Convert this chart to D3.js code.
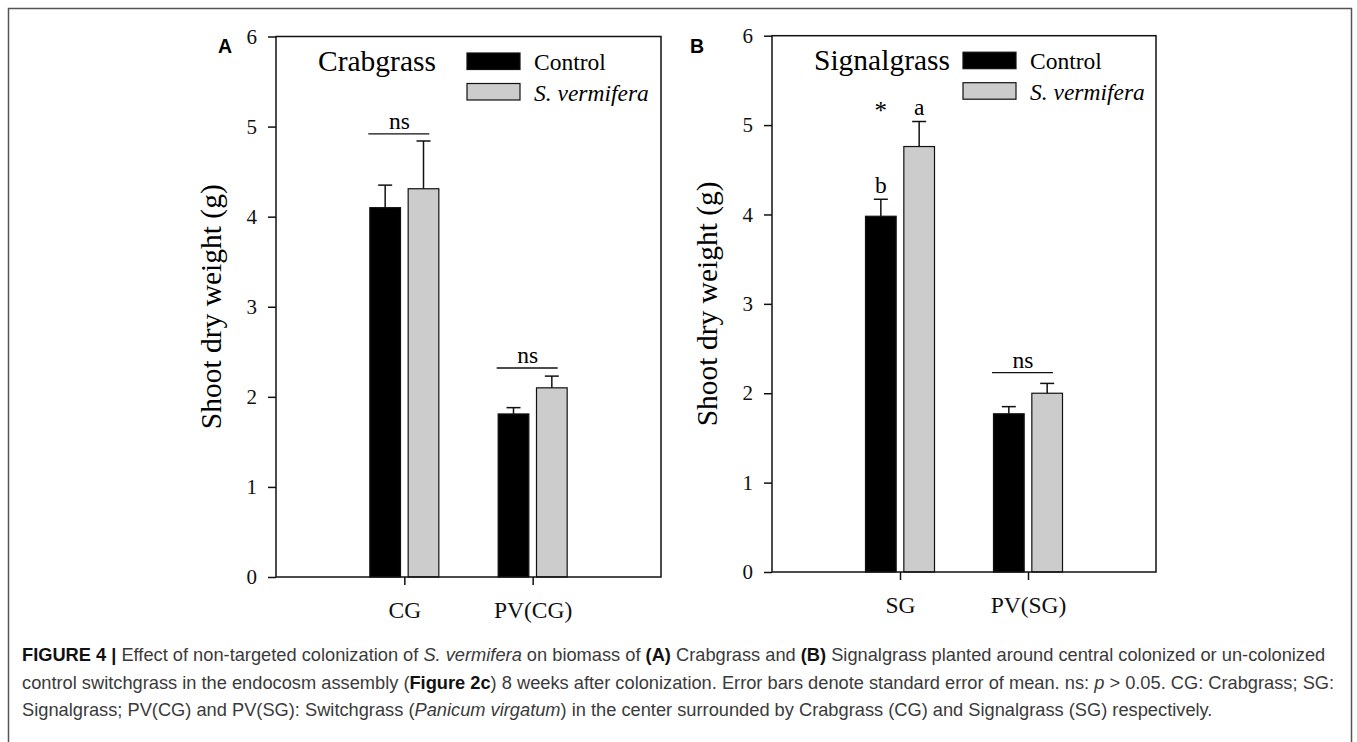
<!DOCTYPE html>
<html>
<head>
<meta charset="utf-8">
<script src="https://cdn.jsdelivr.net/npm/d3@7.9.0/dist/d3.min.js"></script>
<style>
  body { margin: 0; background: #fff; }
  svg { display: block; }
  .serif { font-family: "Liberation Serif", "Times New Roman", serif; }
  .tick text { font-family: "Liberation Serif", "Times New Roman", serif; fill: #111; }
</style>
</head>
<body>
<script>
// series + categories
const seriesNames = ['Control', 'S. vermifera'];
const seriesFill = ['#000000', '#cccccc'];
const yTicks = [0, 1, 2, 3, 4, 5, 6];

// panel A: crabgrass
const categoriesA = ['CG', 'PV(CG)'];
const controlA = [4.10, 1.81];
const controlErrA = [0.25, 0.07];
const vermiferaA = [4.31, 2.10];
const vermiferaErrA = [0.53, 0.13];
const nsA = [{ cat: 'CG', y: 4.92 }, { cat: 'PV(CG)', y: 2.32 }];
const lettersA = [];

// panel B: signalgrass
const categoriesB = ['SG', 'PV(SG)'];
const controlB = [3.98, 1.77];
const controlErrB = [0.19, 0.08];
const vermiferaB = [4.76, 2.00];
const vermiferaErrB = [0.28, 0.11];
const nsB = [{ cat: 'PV(SG)', y: 2.23 }];
const lettersB = [
  { cat: 'SG', series: 0, text: 'b' },
  { cat: 'SG', series: 1, text: 'a' },
  { cat: 'SG', series: 0, text: '*', y: 5.07 }
];

const W = 1357, H = 742;
const svg = d3.select('body').append('svg')
  .attr('width', W).attr('height', H);

svg.append('rect').attr('width', W).attr('height', H).attr('fill', '#fff');
// outer figure border (open at the bottom, cut by the page)
svg.append('rect')
  .attr('x', 8.5).attr('y', 8.5)
  .attr('width', 1343).attr('height', 800)
  .attr('fill', 'none').attr('stroke', '#555').attr('stroke-width', 1.5);

const panels = [
  { letter: 'A', title: 'Crabgrass', cats: categoriesA,
    values: [controlA, vermiferaA], errs: [controlErrA, vermiferaErrA],
    ns: nsA, letters: lettersA,
    left: 276, top: 36.5, right: 661, bottom: 577, letterX: 218 },
  { letter: 'B', title: 'Signalgrass', cats: categoriesB,
    values: [controlB, vermiferaB], errs: [controlErrB, vermiferaErrB],
    ns: nsB, letters: lettersB,
    left: 772, top: 35.7, right: 1156, bottom: 572, letterX: 690 }
];

panels.forEach(p => drawPanel(p));

function drawPanel(p) {
  let w = p.right - p.left, h = p.bottom - p.top;
  let g = svg.append('g').attr('transform', `translate(${p.left},${p.top})`);

  let x = d3.scalePoint().domain(p.cats).range([0, w]).padding(1);
  let inner = d3.scaleBand().domain(seriesNames).range([-34.5, 34.5]).paddingInner(0.2);
  let y = d3.scaleLinear().domain([0, 6]).range([h, 0]);

  // axes
  let yAxis = g.append('g')
    .call(d3.axisLeft(y).tickValues(yTicks).tickSize(8).tickPadding(11).tickFormat(d3.format('d')));
  yAxis.select('.domain').remove();
  yAxis.selectAll('.tick line').attr('stroke', '#111').attr('stroke-width', 1.5);
  yAxis.selectAll('.tick text').attr('font-size', 21);

  let xAxis = g.append('g').attr('transform', `translate(0,${h})`)
    .call(d3.axisBottom(x).tickSize(8).tickPadding(16));
  xAxis.select('.domain').remove();
  xAxis.selectAll('.tick line').attr('stroke', '#111').attr('stroke-width', 1.5);
  xAxis.selectAll('.tick text').attr('font-size', 23.5);

  // bars
  seriesNames.forEach((s, si) => {
    g.selectAll(null).data(p.cats).enter().append('rect')
      .attr('x', d => x(d) + inner(s))
      .attr('y', (d, i) => y(p.values[si][i]))
      .attr('width', inner.bandwidth())
      .attr('height', (d, i) => y(0) - y(p.values[si][i]))
      .attr('fill', seriesFill[si])
      .attr('stroke', '#111').attr('stroke-width', 1.2);

    // upper error bars only
    let eb = g.selectAll(null).data(p.cats).enter().append('g')
      .attr('stroke', '#111').attr('stroke-width', 1.5);
    eb.append('line')
      .attr('x1', d => x(d) + inner(s) + inner.bandwidth() / 2)
      .attr('x2', d => x(d) + inner(s) + inner.bandwidth() / 2)
      .attr('y1', (d, i) => y(p.values[si][i]))
      .attr('y2', (d, i) => y(p.values[si][i] + p.errs[si][i]));
    eb.append('line')
      .attr('x1', d => x(d) + inner(s) + inner.bandwidth() / 2 - 7)
      .attr('x2', d => x(d) + inner(s) + inner.bandwidth() / 2 + 7)
      .attr('y1', (d, i) => y(p.values[si][i] + p.errs[si][i]))
      .attr('y2', (d, i) => y(p.values[si][i] + p.errs[si][i]));
  });

  // frame
  g.append('rect').attr('width', w).attr('height', h)
    .attr('fill', 'none').attr('stroke', '#111').attr('stroke-width', 1.5);

  // ns brackets
  p.ns.forEach(n => {
    g.append('line')
      .attr('x1', x(n.cat) - 36).attr('x2', x(n.cat) + 25)
      .attr('y1', y(n.y)).attr('y2', y(n.y))
      .attr('stroke', '#111').attr('stroke-width', 1.3);
    g.append('text').attr('class', 'serif')
      .attr('x', x(n.cat) - 5).attr('y', y(n.y) - 5)
      .attr('text-anchor', 'middle').attr('font-size', 23.5)
      .text('ns');
  });

  // letters over bars
  p.letters.forEach(l => {
    let i = p.cats.indexOf(l.cat);
    let top = l.y != null ? y(l.y) : y(p.values[l.series][i] + p.errs[l.series][i]) - 6.5;
    g.append('text').attr('class', 'serif')
      .attr('x', x(l.cat) + inner(seriesNames[l.series]) + inner.bandwidth() / 2)
      .attr('y', top)
      .attr('text-anchor', 'middle').attr('font-size', l.text === '*' ? 25 : 23.5)
      .text(l.text);
  });

  // title + legend
  g.append('text').attr('class', 'serif')
    .attr('x', 42).attr('y', 34).attr('font-size', 29.5)
    .text(p.title);

  seriesNames.forEach((s, si) => {
    g.append('rect')
      .attr('x', 191).attr('y', 16.5 + si * 30.5)
      .attr('width', 53).attr('height', 16.5)
      .attr('fill', seriesFill[si]).attr('stroke', '#111').attr('stroke-width', 1.2);
    g.append('text').attr('class', 'serif')
      .attr('x', 258).attr('y', 33.5 + si * 30.5)
      .attr('font-size', 23.5)
      .attr('font-style', si === 1 ? 'italic' : 'normal')
      .text(s);
  });

  // y label
  g.append('text').attr('class', 'serif')
    .attr('transform', `translate(-55,${h / 2}) rotate(-90)`)
    .attr('text-anchor', 'middle').attr('font-size', 29.5)
    .text('Shoot dry weight (g)');

  // panel letter
  svg.append('text')
    .attr('x', p.letterX).attr('y', 52.5)
    .attr('font-family', '"Liberation Sans", Arial, sans-serif')
    .attr('font-weight', 'bold').attr('font-size', 19.5)
    .text(p.letter);
}

// caption
const captionLines = [
  [['FIGURE 4 |', 'b'], [' Effect of non-targeted colonization of ', ''], ['S. vermifera', 'i'],
   [' on biomass of ', ''], ['(A)', 'b'], [' Crabgrass and ', ''], ['(B)', 'b'],
   [' Signalgrass planted around central colonized or un-colonized', '']],
  [['control switchgrass in the endocosm assembly (', ''], ['Figure 2c', 'b'],
   [') 8 weeks after colonization. Error bars denote standard error of mean. ns: ', ''],
   ['p', 'i'], [' > 0.05. CG: Crabgrass; SG:', '']],
  [['Signalgrass; PV(CG) and PV(SG): Switchgrass (', ''], ['Panicum virgatum', 'i'],
   [') in the center surrounded by Crabgrass (CG) and Signalgrass (SG) respectively.', '']]
];

let cap = svg.append('g')
  .attr('font-family', '"Liberation Sans", Helvetica, Arial, sans-serif')
  .attr('font-size', 16);

let capTexts = captionLines.map((line, li) => {
  let t = cap.append('text').attr('x', 22).attr('y', 661 + li * 27.5).attr('fill', '#3a3a3a');
  line.forEach(([str, st]) => {
    t.append('tspan')
      .attr('font-weight', st === 'b' ? 'bold' : null)
      .attr('font-style', st === 'i' ? 'italic' : null)
      .attr('fill', st === 'b' ? '#111' : null)
      .text(str);
  });
  return t;
});

// scale caption so the second line spans like the original
let len = capTexts[1].node().getComputedTextLength();
cap.attr('font-size', 16 * 1313 / len);
</script>
</body>
</html>
